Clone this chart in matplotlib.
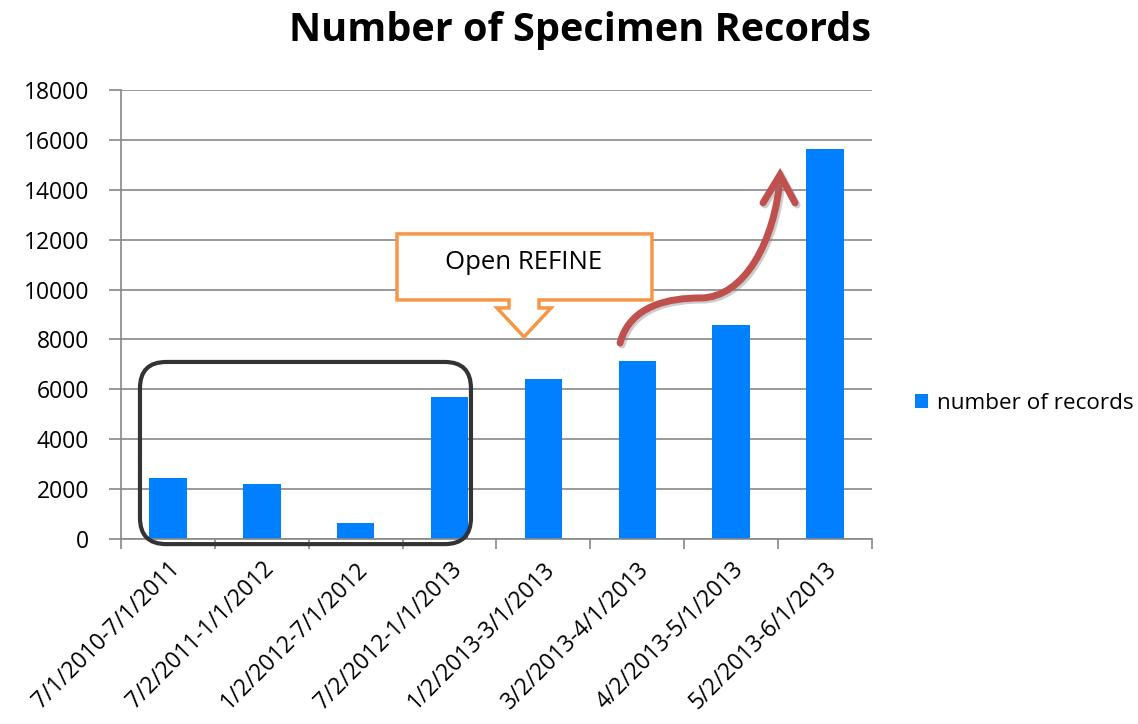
import numpy as np
import matplotlib
matplotlib.use("Agg")
import matplotlib.pyplot as plt
from matplotlib.patches import FancyBboxPatch, Polygon, PathPatch
from matplotlib.path import Path
from matplotlib.transforms import ScaledTranslation
import matplotlib.patheffects as pe

plt.rcParams['font.family'] = ['Open Sans', 'DejaVu Sans']

# data
periods = ["7/1/2010-7/1/2011", "7/2/2011-1/1/2012", "1/2/2012-7/1/2012",
           "7/2/2012-1/1/2013", "1/2/2013-3/1/2013", "3/2/2013-4/1/2013",
           "4/2/2013-5/1/2013", "5/2/2013-6/1/2013"]
records = [2450, 2200, 630, 5700, 6410, 7140, 8580, 15630]
y_ticks = [0, 2000, 4000, 6000, 8000, 10000, 12000, 14000, 16000, 18000]

grid_col = "#878787"
bar_col = "#0080FF"

fig = plt.figure(figsize=(11.38, 7.24), dpi=100)
ax = fig.add_axes([121 / 1138, 1 - 539 / 724, (872 - 121) / 1138, (539 - 90) / 724])

x = np.arange(len(periods))
ax.bar(x, records, width=0.4, color=bar_col, zorder=2, label="number of records")

ax.set_xlim(-0.5, len(periods) - 0.5)
ax.set_ylim(0, 18000)
ax.set_yticks(y_ticks)
ax.set_yticklabels([str(v) for v in y_ticks], fontsize=16.5)
ax.yaxis.grid(True, color=grid_col, linewidth=1.2, zorder=0)
ax.set_axisbelow(True)

ax.set_xticks(x)
ax.set_xticklabels(periods, rotation=45, ha="right", va="top",
                   rotation_mode="anchor", fontsize=16.5)
# nudge the slanted labels a little left, like the original
shift = ScaledTranslation(-7 / 100, 0, fig.dpi_scale_trans)
for lbl in ax.get_xticklabels():
    lbl.set_transform(lbl.get_transform() + shift)
ax.set_xticks(np.arange(-0.5, len(periods)), minor=True)
ax.tick_params(axis="x", which="major", length=0, pad=13)
ax.tick_params(axis="x", which="minor", length=7, width=1.2, color=grid_col, direction="out")
ax.tick_params(axis="y", length=9, width=1.2, color=grid_col, direction="out", pad=14)

for side in ["top", "right"]:
    ax.spines[side].set_visible(False)
for side in ["left", "bottom"]:
    ax.spines[side].set_color(grid_col)
    ax.spines[side].set_linewidth(1.2)

fig.text(580 / 1138, 1 - 31 / 724, "Number of Specimen Records",
         fontsize=28.5, fontweight="bold", ha="center", va="center")

fig.legend(loc="center left", bbox_to_anchor=(895 / 1138, 1 - 403 / 724),
           frameon=False, fontsize=16.2, handlelength=0.58, handleheight=0.58,
           handletextpad=0.4)

# rounded box around the early periods
ypp = 40.11    # data units per pixel (y)
box = FancyBboxPatch((-0.298, -205), 3.526, 7302,
                     boxstyle="round,pad=0,rounding_size=0.28",
                     mutation_aspect=ypp * 93.875,
                     facecolor="none", edgecolor="#333333", linewidth=3,
                     clip_on=False, zorder=3)
ax.add_patch(box)

# "Open REFINE" callout
callout = Polygon([(2.440, 12231), (5.156, 12231), (5.156, 9584), (3.953, 9584),
                   (3.953, 9263), (4.081, 9263), (3.793, 8100), (3.505, 9263),
                   (3.633, 9263), (3.633, 9584), (2.440, 9584)],
                  closed=True, facecolor="white", edgecolor="#F79646",
                  linewidth=2.5, joinstyle="miter", zorder=3)
ax.add_patch(callout)
ax.text(3.793, 11070, "Open REFINE", fontsize=18.5, ha="center", va="center", zorder=4)

# red curved arrow
shadow = [pe.SimpleLineShadow(offset=(1.5, -1.5), shadow_color="gray", alpha=0.4), pe.Normal()]
verts = [(4.816, 7857), (4.922, 9381), (5.348, 9662), (5.668, 9662),
         (6.147, 9662), (6.467, 11989), (6.520, 14476)]
codes = [Path.MOVETO, Path.CURVE4, Path.CURVE4, Path.CURVE4,
         Path.CURVE4, Path.CURVE4, Path.CURVE4]
curve = PathPatch(Path(verts, codes), facecolor="none", edgecolor="#C0504D",
                  linewidth=5, capstyle="round", zorder=4, path_effects=shadow)
ax.add_patch(curve)
ax.plot([6.339, 6.520, 6.680], [13474, 14596, 13474], color="#C0504D",
        linewidth=5, solid_capstyle="round", solid_joinstyle="miter",
        zorder=4, path_effects=shadow)

fig.savefig("out.png", dpi=100)
